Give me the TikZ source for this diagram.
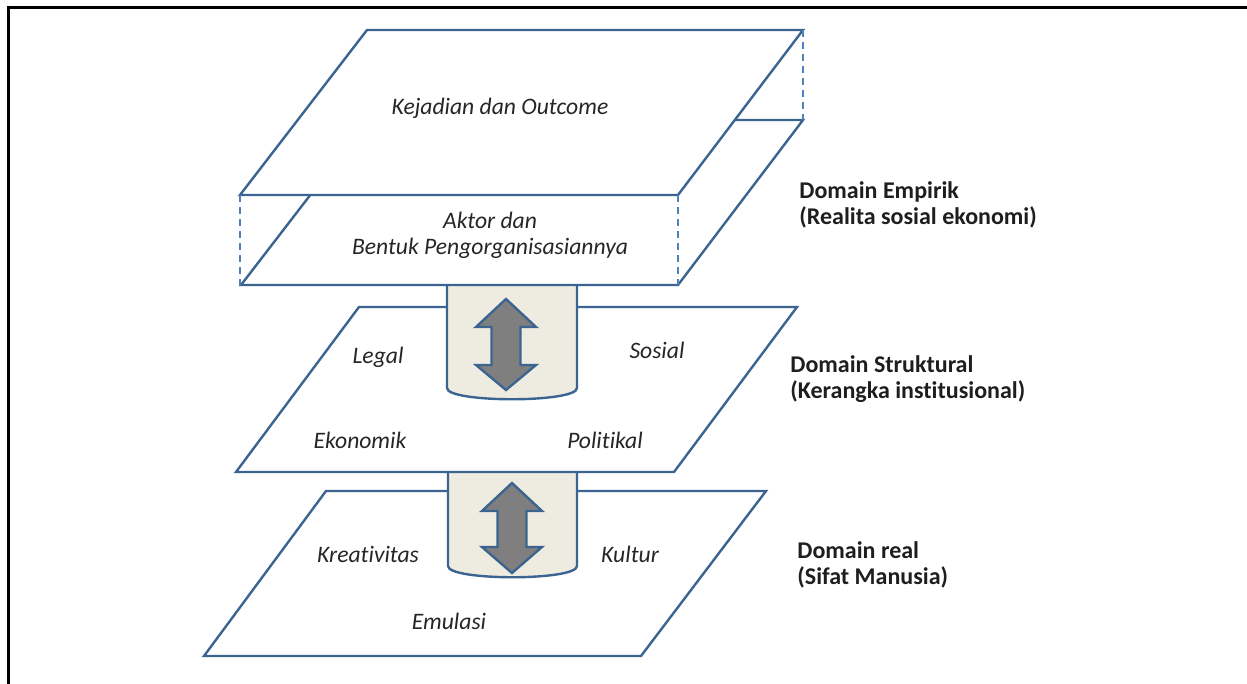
\documentclass[tikz,border=0pt]{standalone}
\usepackage{fontspec}
\setmainfont{Carlito}[Ligatures=NoCommon]
\usepackage{tikz}
\usetikzlibrary{positioning}

\definecolor{lineblue}{HTML}{3C6491}
\definecolor{dashblue}{HTML}{4F81BD}
\definecolor{cylfill}{HTML}{EEECE1}
\definecolor{arrowgray}{HTML}{7F7F7F}
\definecolor{txtgray}{HTML}{262626}

\begin{document}
\begin{tikzpicture}[x=0.5pt, y=-0.5pt,
  plane/.style={draw=lineblue, fill=white, line width=1.2pt, line join=miter},
  hidden/.style={draw=dashblue, line width=1.2pt, dash pattern=on 3.5pt off 2.5pt},
  cyl/.style={draw=lineblue, fill=cylfill, line width=1.2pt},
  updown/.style={draw=lineblue, fill=arrowgray, line width=1.2pt, line join=miter},
  lbl/.style={font=\itshape\fontsize{11.8}{13}\selectfont, text=txtgray, inner sep=0pt, align=center},
  dom/.style={font=\bfseries\fontsize{12}{13}\selectfont, text=txtgray!80!black, inner sep=0pt, align=left, anchor=west}]

\useasboundingbox (0,0) rectangle (1247,684);

%Frame
\draw[line width=1.5pt, black] (8.5,684) -- (8.5,7.5) -- (1247,7.5);

%Domain real
\draw[plane] (204,656) -- (641,656) -- (766,491) -- (326,491) -- cycle;
\draw[cyl] (448,472) -- (448,566) .. controls (448,581) and (577,581) .. (577,566) -- (577,472);
\draw[updown] (512,483) -- (542,511) -- (526.5,511) -- (526.5,547) -- (542,547) -- (512,573)
  -- (482,547) -- (497.5,547) -- (497.5,511) -- (482,511) -- cycle;

%Domain struktural
\draw[plane] (236,472) -- (674,472) -- (797,307) -- (359,307) -- cycle;
\draw[cyl] (447,285) -- (447,388) .. controls (447,403) and (577,403) .. (577,388) -- (577,285);
\draw[updown] (506,299) -- (536,327) -- (520.5,327) -- (520.5,365) -- (536,365) -- (506,390)
  -- (476,365) -- (491.5,365) -- (491.5,327) -- (476,327) -- cycle;

%Domain empirik
\draw[plane] (241,285) -- (678,285) -- (803,120) -- (368,120) -- cycle;
\draw[plane] (240,195) -- (678,195) -- (803,30) -- (367,30) -- cycle;
\draw[hidden] (240,195) -- (240,285);
\draw[hidden] (678,195) -- (678,285);
\draw[hidden] (803,30) -- (803,120);

%Labels
\node[lbl] (outcome) at (500,108) {Kejadian dan Outcome};
\node[lbl] (aktor)   at (490,235) {Aktor dan\\Bentuk Pengorganisasiannya};
\node[lbl] (legal)   at (378,357) {Legal};
\node[lbl] (sosial)  at (657,350) {Sosial};
\node[lbl] (ekon)    at (360,440) {Ekonomik};
\node[lbl] (polit)   at (605,440) {Politikal};
\node[lbl] (kreat)   at (368,554) {Kreativitas};
\node[lbl] (kultur)  at (630,554) {Kultur};
\node[lbl] (emul)    at (449,621) {Emulasi};

\node[dom] (empirik) at (799,205) {Domain Empirik\\(Realita sosial ekonomi)};
\node[dom] (struk)   at (790,379) {Domain Struktural\\(Kerangka institusional)};
\node[dom] (real)    at (797,565) {Domain real\\(Sifat Manusia)};

\end{tikzpicture}
\end{document}
